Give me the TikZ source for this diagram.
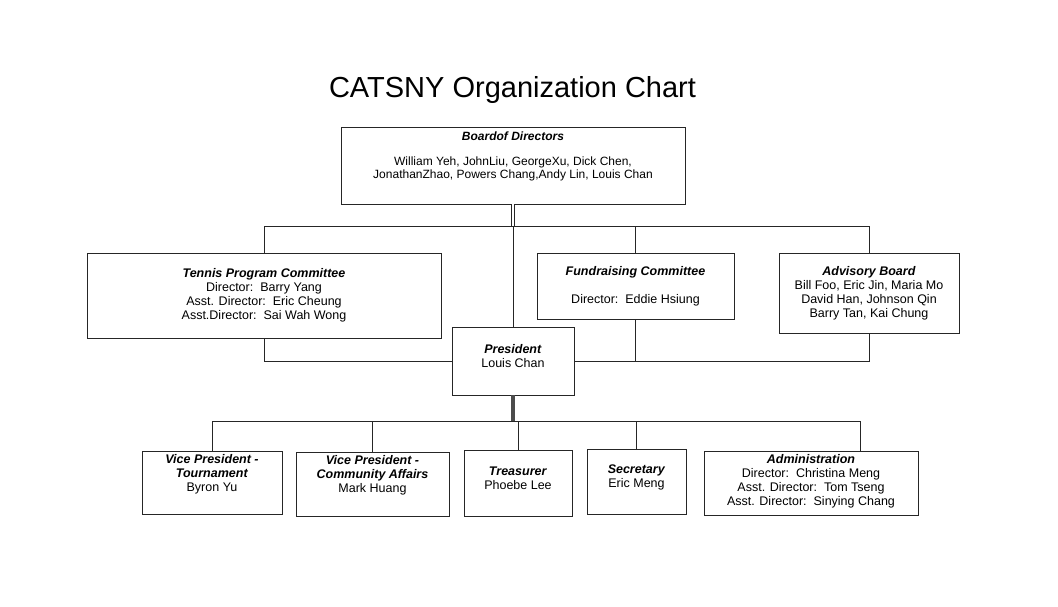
\documentclass[tikz,border=0pt]{standalone}
\usepackage{fontspec}
\setmainfont{Liberation Sans}
\newcommand{\role}[1]{\textbf{\textit{#1}}}
\begin{document}
\begin{tikzpicture}[x=1pt,y=-1pt,
    post/.style={draw=black!85, line width=0.8pt, align=center, inner sep=2pt,
      font=\fontsize{12.5}{14}\selectfont},
    link/.style={draw=black!85, line width=0.8pt}]
  \useasboundingbox (0,0) rectangle (1058,606);

  \node[anchor=base, font=\fontsize{29}{32}\selectfont] (title) at (512.5,97) {CATSNY Organization Chart};

  \node[post, minimum width=344pt, minimum height=77pt, text depth=21pt,
    font=\fontsize{12}{13}\selectfont] (board) at (513,165.5)
    {\role{Boardof Directors}\\[12pt]
     William Yeh, JohnLiu, GeorgeXu, Dick Chen,\\
     JonathanZhao, Powers Chang,Andy Lin, Louis Chan};

  \node[post, minimum width=354pt, minimum height=85pt] (tennis) at (264,295.5)
    {\role{Tennis Program Committee}\\
     Director:\ \ Barry Yang\\
     Asst. Director:\ \ Eric Cheung\\
     Asst.Director:\ \ Sai Wah Wong};
  \node[post, minimum width=197pt, minimum height=66pt] (fund) at (635.5,286)
    {\role{Fundraising Committee}\\[14pt]
     Director:\ \ Eddie Hsiung};
  \node[post, minimum width=180pt, minimum height=80pt] (advisory) at (869,293)
    {\role{Advisory Board}\\
     Bill Foo, Eric Jin, Maria Mo\\
     David Han, Johnson Qin\\
     Barry Tan, Kai Chung};

  \node[post, minimum width=122pt, minimum height=68pt, text depth=10pt] (president) at (513,361)
    {\role{President}\\ Louis Chan};

  \node[post, minimum width=140pt, minimum height=63pt, text depth=19pt] (vpt) at (212,482.5)
    {\role{Vice President -}\\ \role{Tournament}\\ Byron Yu};
  \node[post, minimum width=153pt, minimum height=64pt, text depth=20pt] (vpc) at (372.5,484)
    {\role{Vice President -}\\ \role{Community Affairs}\\ Mark Huang};
  \node[post, minimum width=108pt, minimum height=66pt, text depth=9pt] (treasurer) at (518,483)
    {\role{Treasurer}\\ Phoebe Lee};
  \node[post, minimum width=99pt, minimum height=65pt, text depth=10pt] (secretary) at (636.5,481.5)
    {\role{Secretary}\\ Eric Meng};
  \node[post, minimum width=214pt, minimum height=64pt, text depth=7pt] (admin) at (811,483)
    {\role{Administration}\\
     Director:\ \ Christina Meng\\
     Asst. Director:\ \ Tom Tseng\\
     Asst. Director:\ \ Sinying Chang};

  \coordinate (upper) at (513,226);
  \coordinate (lower) at (513,421);

  \draw[link, double, double distance=1.5pt] (board.south) -- (upper);
  \draw[link] (upper) -- (president.north);
  \draw[link] (tennis.north) |- (upper);
  \draw[link] (fund.north) |- (upper);
  \draw[link] (advisory.north) |- (upper);
  \draw[link] (tennis.south) |- (president.west);
  \draw[link] (advisory.south) |- (president.east);
  \draw[link] (fund.south) -- (fund.south |- president.east);

  \draw[link, line width=3.5pt, draw=black!70] (president.south) -- (lower);
  \draw[link] (vpt.north) |- (lower);
  \draw[link] (vpc.north) |- (lower);
  \draw[link] (treasurer.north) |- (lower);
  \draw[link] (secretary.north) |- (lower);
  \draw[link] ([xshift=49pt]admin.north) |- (lower);
\end{tikzpicture}
\end{document}
